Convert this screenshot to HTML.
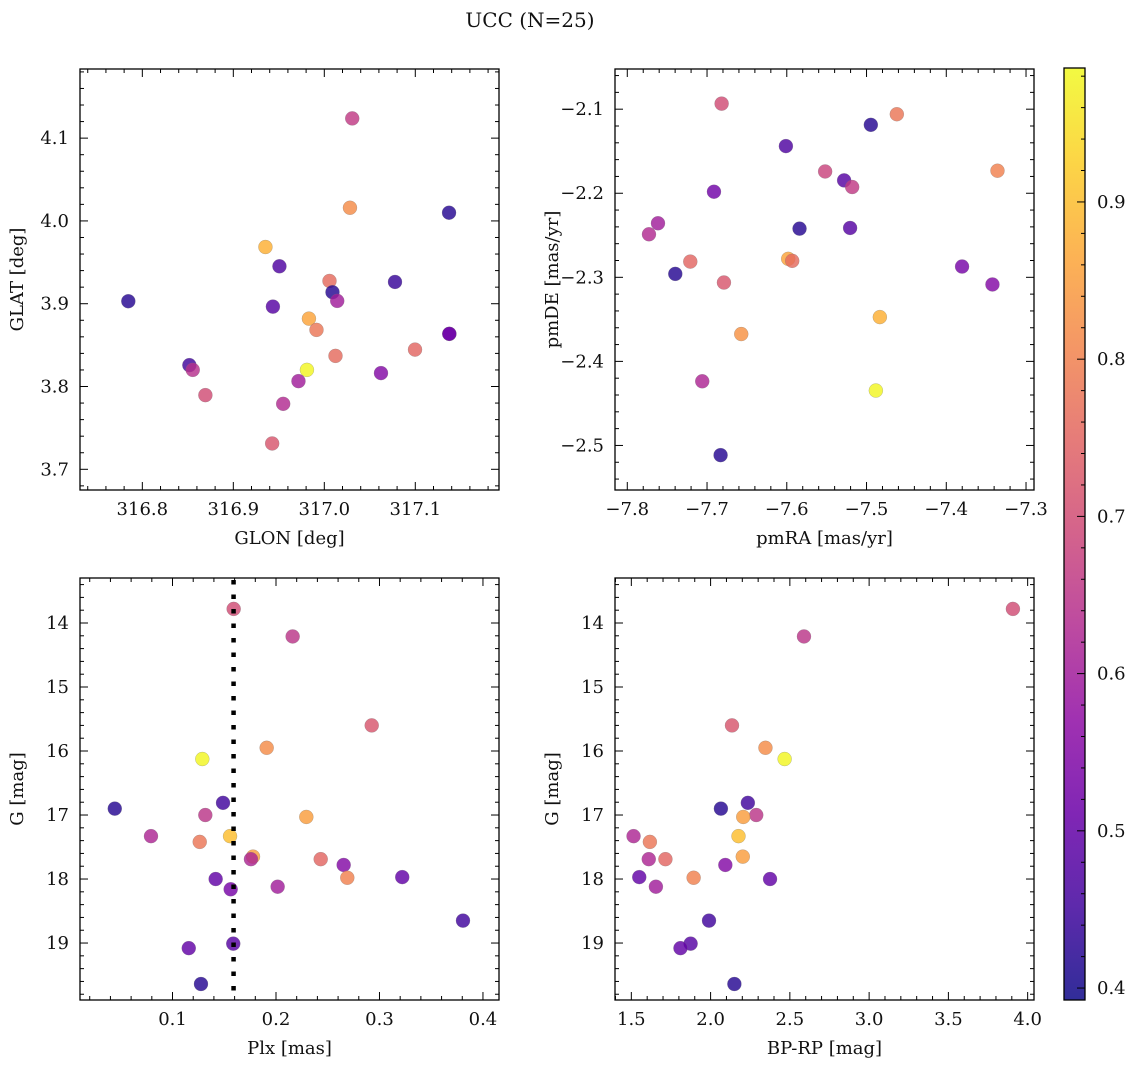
<!DOCTYPE html>
<html><head><meta charset="utf-8"><style>
html,body{margin:0;padding:0;background:#fff;}
svg{display:block;font-family:"DejaVu Serif","Liberation Serif",serif;}
</style></head><body>
<svg id="fig" width="1136" height="1067" viewBox="0 0 1136 1067" xmlns="http://www.w3.org/2000/svg">
<text x="530" y="27" font-size="20" text-anchor="middle" fill="#111">UCC (N=25)</text>
</svg>
<script>
// ---- data ----
const glon = [316.7846,317.0307,317.0282,317.1371,316.9353,316.9507,317.0057,317.0777,317.0090,317.0142,316.9435,316.9831,316.9914,317.1374,317.1374,317.0997,317.0123,316.8517,316.8554,316.9809,317.0623,316.9716,316.8693,316.9548,316.9427];
const glat = [3.903,4.1238,4.0159,4.0099,3.9685,3.9452,3.9275,3.9263,3.9139,3.9034,3.8965,3.8820,3.8684,3.8636,3.8636,3.8446,3.8370,3.8258,3.8201,3.8201,3.8162,3.8065,3.7896,3.7791,3.7312];
const cTL = [0.42,0.66,0.82,0.42,0.88,0.47,0.76,0.44,0.42,0.60,0.48,0.86,0.78,0.50,0.52,0.75,0.76,0.45,0.64,0.98,0.55,0.60,0.70,0.63,0.72];

const pmra = [-7.6817,-7.462,-7.4946,-7.6011,-7.5519,-7.3358,-7.5281,-7.518,-7.6913,-7.7615,-7.7728,-7.584,-7.5206,-7.721,-7.5982,-7.5932,-7.7398,-7.3802,-7.6788,-7.3421,-7.4833,-7.6571,-7.706,-7.4883,-7.683];
const pmde = [-2.0934,-2.106,-2.1186,-2.1439,-2.1741,-2.1732,-2.1847,-2.1926,-2.1982,-2.2357,-2.2488,-2.2421,-2.2413,-2.2813,-2.278,-2.2804,-2.2959,-2.2872,-2.3062,-2.3085,-2.3473,-2.3675,-2.4237,-2.4347,-2.5115];
const cTR = [0.70,0.78,0.42,0.47,0.68,0.80,0.48,0.66,0.52,0.60,0.63,0.42,0.48,0.75,0.86,0.76,0.42,0.53,0.72,0.55,0.88,0.83,0.62,0.98,0.42];

const plx = [0.1591,0.2161,0.2925,0.191,0.1288,0.0442,0.1488,0.1317,0.2293,0.0792,0.1556,0.1263,0.1778,0.1758,0.2432,0.2654,0.2689,0.1417,0.322,0.1562,0.2016,0.3807,0.1587,0.1157,0.1275];
const gmag = [13.78,14.21,15.60,15.95,16.125,16.90,16.81,17.00,17.03,17.33,17.33,17.42,17.65,17.69,17.69,17.78,17.98,18.00,17.97,18.16,18.12,18.65,19.01,19.08,19.64];
const cG = [0.70,0.65,0.72,0.82,0.98,0.42,0.45,0.65,0.85,0.62,0.90,0.78,0.85,0.62,0.75,0.55,0.80,0.50,0.50,0.53,0.60,0.45,0.48,0.50,0.42];
const plxLine = [0.159];

const bprp = [3.907,2.589,2.135,2.346,2.467,2.065,2.235,2.288,2.206,1.514,2.176,1.617,2.203,1.610,1.715,2.093,1.893,1.55,2.375,1.655,1.99,1.874,1.81,2.15];
const gmagBR = [13.78,14.21,15.60,15.95,16.125,16.90,16.81,17.00,17.03,17.33,17.33,17.42,17.65,17.69,17.69,17.78,17.98,17.97,18.00,18.12,18.65,19.01,19.08,19.64];
const cBR = [0.70,0.65,0.72,0.82,0.98,0.42,0.45,0.65,0.85,0.62,0.90,0.78,0.85,0.62,0.75,0.55,0.80,0.50,0.50,0.60,0.45,0.48,0.50,0.42];

const ticksGLON = ["316.8","316.9","317.0","317.1"];
const ticksGLAT = ["3.7","3.8","3.9","4.0","4.1"];
const ticksPMRA = ["−7.8","−7.7","−7.6","−7.5","−7.4","−7.3"];
const ticksPMDE = ["−2.5","−2.4","−2.3","−2.2","−2.1"];
const ticksPLX = ["0.1","0.2","0.3","0.4"];
const ticksG = ["14","15","16","17","18","19"];
const ticksBPRP = ["1.5","2.0","2.5","3.0","3.5","4.0"];
const ticksCB = ["0.4","0.5","0.6","0.7","0.8","0.9"];
const cbMin = 0.3924, cbMax = 0.9852;

// ---- rendering ----
const NS = "http://www.w3.org/2000/svg";
const svg = document.getElementById('fig');
const FS = 18;
function mk(tag, attrs, parent){ const e=document.createElementNS(NS,tag); for(const k in attrs) e.setAttribute(k,attrs[k]); (parent||svg).appendChild(e); return e; }
const stops=[[13,8,135],[65,4,157],[106,0,168],[143,13,164],[177,42,144],[204,71,120],[225,100,98],[242,132,75],[252,166,54],[252,206,37],[240,249,33]];
function plasma(t){ t=Math.max(0,Math.min(1,t)); const f=t*10, i=Math.min(9,Math.floor(f)), u=f-i; const a=stops[i], b=stops[i+1]; return `rgb(${Math.round(a[0]+(b[0]-a[0])*u)},${Math.round(a[1]+(b[1]-a[1])*u)},${Math.round(a[2]+(b[2]-a[2])*u)})`; }
function cnorm(v){ return (v-cbMin)/(cbMax-cbMin); }

function panel(name, box, xd, yd, xt, yt, xMinorStep, yMinorStep, xlab, ylab, xs, ys, cs){
  const [L,T,R,B]=box;
  const sx = v => L + (v-xd[0])/(xd[1]-xd[0])*(R-L);
  const sy = v => B - (v-yd[0])/(yd[1]-yd[0])*(B-T);
  const g = mk('g',{});
  
  
  const tk = mk('g',{stroke:'#000','stroke-width':1},g);
  const lo=Math.min(xd[0],xd[1]), hi=Math.max(xd[0],xd[1]);
  for(let k=Math.ceil(lo/xMinorStep-1e-6); k*xMinorStep<=hi+1e-9; k++){
    const v=k*xMinorStep, x=sx(v);
    const major = xt.some(s=>Math.abs(parseFloat(s.replace('−','-'))-v)<1e-6);
    const len = major?8:4;
    mk('line',{x1:x,x2:x,y1:B,y2:B-len},tk); mk('line',{x1:x,x2:x,y1:T,y2:T+len},tk);
  }
  const ylo=Math.min(yd[0],yd[1]), yhi=Math.max(yd[0],yd[1]);
  for(let k=Math.ceil(ylo/yMinorStep-1e-6); k*yMinorStep<=yhi+1e-9; k++){
    const v=k*yMinorStep, y=sy(v);
    const major = yt.some(s=>Math.abs(parseFloat(s.replace('−','-'))-v)<1e-6);
    const len = major?8:4;
    mk('line',{x1:L,x2:L+len,y1:y,y2:y},tk); mk('line',{x1:R,x2:R-len,y1:y,y2:y},tk);
  }
  xt.forEach(s=>{ const t=mk('text',{x:sx(parseFloat(s.replace('−','-'))),y:B+25,'font-size':FS,'text-anchor':'middle',fill:'#111'},g); t.textContent=s;
      });
  yt.forEach(s=>{ const t=mk('text',{x:L-11,y:sy(parseFloat(s.replace('−','-')))+6,'font-size':FS,'text-anchor':'end',fill:'#111'},g); t.textContent=s;
      });
  const xl=mk('text',{x:(L+R)/2,y:B+54,'font-size':FS,'text-anchor':'middle',fill:'#111'},g); xl.textContent=xlab;
   
  const cy=(T+B)/2, ylx = L-57;
  const yl=mk('text',{x:ylx,y:cy,'font-size':FS,'text-anchor':'middle',fill:'#111',transform:`rotate(-90 ${ylx} ${cy})`},g); yl.textContent=ylab;
   
  const pts = mk('g',{},g);
  xs.forEach((v,i)=>{ const c=mk('circle',{cx:sx(v),cy:sy(ys[i]),r:7,fill:plasma(cnorm(cs[i])),'fill-opacity':0.82,stroke:'#777','stroke-width':0.4,'stroke-opacity':0.6},pts);
      });
  const fr=mk('rect',{x:L,y:T,width:R-L,height:B-T,fill:'none',stroke:'#000','stroke-width':1.3},g);
   
  return {sx,sy,g};
}

panel('panel-glon-glat',[80,69,499,490],[316.7315,317.192],[3.675,4.1835],ticksGLON,ticksGLAT,0.02,0.02,'GLON [deg]','GLAT [deg]',glon,glat,cTL);
panel('panel-pm',[615,69,1034,490],[-7.8154,-7.29],[-2.553,-2.0522],ticksPMRA,ticksPMDE,0.02,0.02,'pmRA [mas/yr]','pmDE [mas/yr]',pmra,pmde,cTR);
const bl = panel('panel-plx-g',[80,578,499,1000],[0.0106,0.4155],[19.89,13.297],ticksPLX,ticksG,0.02,0.2,'Plx [mas]','G [mag]',plx,gmag,cG);
const vl = mk('line',{x1:bl.sx(plxLine[0]),x2:bl.sx(plxLine[0]),y1:580,y2:1000,stroke:'#000','stroke-width':4.5,'stroke-dasharray':'4.5 10'},bl.g);


panel('panel-bprp-g',[615,578,1034,1000],[1.397,4.04],[19.89,13.297],ticksBPRP,ticksG,0.1,0.2,'BP-RP [mag]','G [mag]',bprp,gmagBR,cBR);

// colorbar
const cb = mk('g',{});


const defs=mk('defs',{});
const lg=mk('linearGradient',{id:'pl',x1:0,y1:1,x2:0,y2:0},defs);
for(let i=0;i<=10;i++) mk('stop',{offset:i/10,'stop-color':plasma(i/10),'stop-opacity':0.85},lg);
const CL=1064,CR=1085,CT=68,CB=1000;
mk('rect',{x:CL,y:CT,width:CR-CL,height:CB-CT,fill:'url(#pl)',stroke:'#000','stroke-width':1.3},cb);
const cy = v => CB - (v-cbMin)/(cbMax-cbMin)*(CB-CT);
for(let k=20;k*0.02<=cbMax+1e-9;k++){ const v=k*0.02; if(v<cbMin) continue; const y=cy(v); const major=Math.abs(v*10-Math.round(v*10))<1e-6;
  mk('line',{x1:CR,x2:CR-(major?8:4),y1:y,y2:y,stroke:'#000','stroke-width':1},cb); }
ticksCB.forEach(s=>{ const t=mk('text',{x:CR+12,y:cy(parseFloat(s))+6,'font-size':FS,fill:'#111'},cb); t.textContent=s;
    });
</script>
</body></html>
